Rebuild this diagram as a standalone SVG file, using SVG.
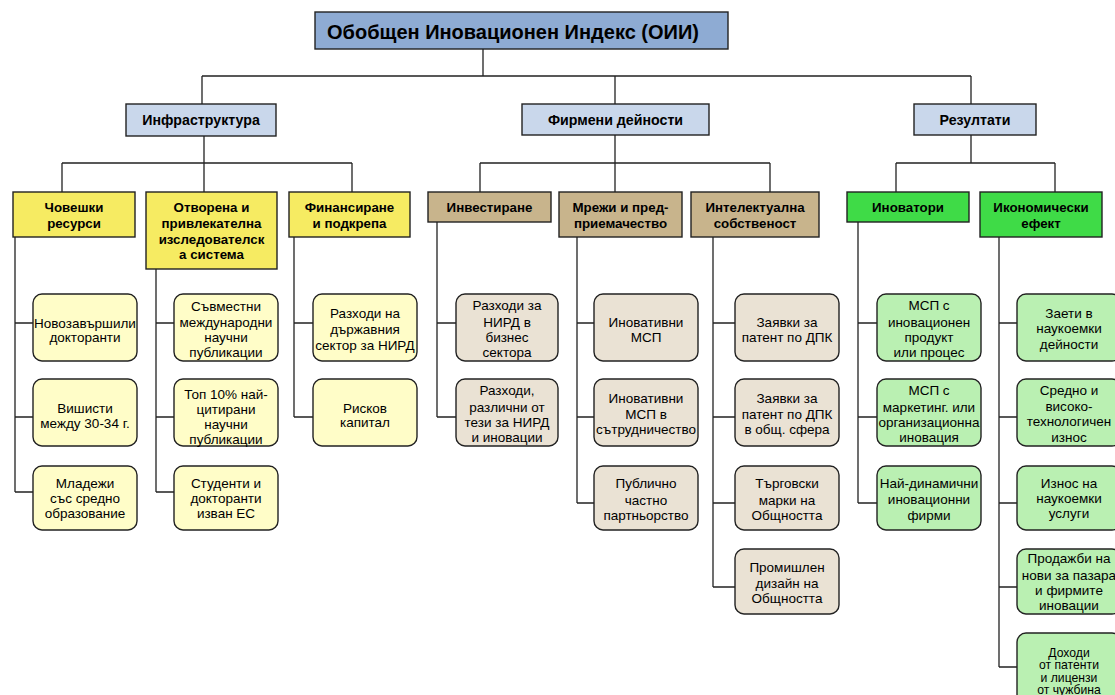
<svg xmlns="http://www.w3.org/2000/svg" width="1115" height="695" viewBox="0 0 1115 695">
<style>
text{font-family:"Liberation Sans",Arial,sans-serif;fill:#000;text-anchor:middle}
.t0{font-size:20px;font-weight:bold}
.t1{font-size:14.2px;font-weight:bold}
.t2{font-size:13.3px;font-weight:bold}
.t3{font-size:13.5px}
.t4{font-size:12.2px}
.box{stroke:#222;stroke-width:1.4}
.top{fill:#8EABD3}
.l1{fill:#C9D7EB}
.yl{fill:#F6EB62}
.tn{fill:#C8B48C}
.gn{fill:#3FDB47}
.yl3{fill:#FFFDC8}
.tn3{fill:#EAE2D4}
.gn3{fill:#BAF0B2}
.c{fill:none;stroke:#222;stroke-width:1.3}
</style>
<g id="connectors" class="c">
<path d="M483 49V76M202 76H971M202 76V104M615 76V104M971 76V104"/>
<path d="M204 136V163M62 163H352M62 163V192M204 163V192M352 163V192"/>
<path d="M615 135V163M480 163H770M480 163V192M615 163V192M770 163V192"/>
<path d="M971 135V163M896 163H1055M896 163V192M1055 163V192"/>
<path d="M15 237V492M15 323H33M15 417H33M15 492H33"/>
<path d="M156 269V492M156 323H174M156 417H174M156 492H174"/>
<path d="M294 237V417M294 323H313M294 417H313"/>
<path d="M437 222V417M437 323H456M437 417H456"/>
<path d="M577 237V503M577 323H594M577 417H594M577 503H594"/>
<path d="M713 237V587M713 323H735M713 417H735M713 503H735M713 587H735"/>
<path d="M858 222V503M858 323H877M858 417H877M858 503H877"/>
<path d="M999 237V667M999 323H1017M999 417H1017M999 503H1017M999 587H1017M999 667H1017"/>
</g>
<g id="n-top"><rect class="box top" x="315" y="12" width="413" height="37"/><text class="t0" x="513" y="38.5">Обобщен Иновационен Индекс (ОИИ)</text></g>
<g id="n-infra"><rect class="box l1" x="126" y="104" width="150" height="32"/><text class="t1" x="201" y="125">Инфраструктура</text></g>
<g id="n-firm"><rect class="box l1" x="522" y="104" width="187" height="31"/><text class="t1" x="615.5" y="125">Фирмени дейности</text></g>
<g id="n-res"><rect class="box l1" x="914" y="104" width="122" height="31"/><text class="t1" x="975" y="125">Резултати</text></g>

<g id="n-hr"><rect class="box yl" x="13" y="192" width="122" height="45"/><text class="t2" x="74" y="211.5">Човешки</text><text class="t2" x="74" y="227.5">ресурси</text></g>
<g id="n-open"><rect class="box yl" x="146" y="192" width="131" height="77"/><text class="t2" x="211.5" y="211.5">Отворена и</text><text class="t2" x="211.5" y="227.5">привлекателна</text><text class="t2" x="211.5" y="243.5">изследователск</text><text class="t2" x="211.5" y="259">а система</text></g>
<g id="n-fin"><rect class="box yl" x="289" y="192" width="121" height="45"/><text class="t2" x="349.5" y="211.5">Финансиране</text><text class="t2" x="349.5" y="227.5">и подкрепа</text></g>
<g id="n-inv"><rect class="box tn" x="428" y="192" width="123" height="30"/><text class="t2" x="489.5" y="211.5">Инвестиране</text></g>
<g id="n-net"><rect class="box tn" x="559" y="192" width="123" height="45"/><text class="t2" x="620.5" y="211.5">Мрежи и пред-</text><text class="t2" x="620.5" y="227.5">приемачество</text></g>
<g id="n-ip"><rect class="box tn" x="691" y="192" width="128" height="45"/><text class="t2" x="755" y="211.5">Интелектуална</text><text class="t2" x="755" y="227.5">собственост</text></g>
<g id="n-innov"><rect class="box gn" x="847" y="192" width="122" height="30"/><text class="t2" x="908" y="211.5">Иноватори</text></g>
<g id="n-econ"><rect class="box gn" x="980" y="192" width="122" height="45"/><text class="t2" x="1041" y="211.5">Икономически</text><text class="t2" x="1041" y="227.5">ефект</text></g>

<g id="n-a1"><rect class="box yl3" x="33" y="294" width="104" height="67" rx="9"/><text class="t3" x="85" y="327.5">Новозавършили</text><text class="t3" x="85" y="341.5">докторанти</text></g>
<g id="n-a2"><rect class="box yl3" x="33" y="379" width="104" height="67" rx="9"/><text class="t3" x="85" y="412.5">Вишисти</text><text class="t3" x="85" y="427.5">между 30-34 г.</text></g>
<g id="n-a3"><rect class="box yl3" x="33" y="466" width="104" height="64" rx="9"/><text class="t3" x="85" y="487.5">Младежи</text><text class="t3" x="85" y="502.5">със средно</text><text class="t3" x="85" y="517.5">образование</text></g>

<g id="n-b1"><rect class="box yl3" x="174" y="294" width="104" height="67" rx="9"/><text class="t3" x="226" y="310.5">Съвместни</text><text class="t3" x="226" y="326.5">международни</text><text class="t3" x="226" y="341.5">научни</text><text class="t3" x="226" y="356.5">публикации</text></g>
<g id="n-b2"><rect class="box yl3" x="174" y="379" width="104" height="67" rx="9"/><text class="t3" x="226" y="398.5">Топ 10% най-</text><text class="t3" x="226" y="413.5">цитирани</text><text class="t3" x="226" y="428.5">научни</text><text class="t3" x="226" y="443.5">публикации</text></g>
<g id="n-b3"><rect class="box yl3" x="174" y="466" width="104" height="64" rx="9"/><text class="t3" x="226" y="487.5">Студенти и</text><text class="t3" x="226" y="502.5">докторанти</text><text class="t3" x="226" y="517.5">изван ЕС</text></g>

<g id="n-c1"><rect class="box yl3" x="313" y="294" width="104" height="67" rx="9"/><text class="t3" x="365" y="317.5">Разходи на</text><text class="t3" x="365" y="334">държавния</text><text class="t3" x="365" y="349.5">сектор за НИРД</text></g>
<g id="n-c2"><rect class="box yl3" x="313" y="379" width="104" height="67" rx="9"/><text class="t3" x="365" y="412.5">Рисков</text><text class="t3" x="365" y="426.5">капитал</text></g>

<g id="n-d1"><rect class="box tn3" x="456" y="294" width="102" height="67" rx="9"/><text class="t3" x="507" y="309.5">Разходи за</text><text class="t3" x="507" y="326.5">НИРД в</text><text class="t3" x="507" y="341.5">бизнес</text><text class="t3" x="507" y="357">сектора</text></g>
<g id="n-d2"><rect class="box tn3" x="456" y="379" width="102" height="67" rx="9"/><text class="t3" x="507" y="394.5">Разходи,</text><text class="t3" x="507" y="411.5">различни от</text><text class="t3" x="507" y="426.5">тези за НИРД</text><text class="t3" x="507" y="441.5">и иновации</text></g>

<g id="n-e1"><rect class="box tn3" x="594" y="294" width="104" height="67" rx="9"/><text class="t3" x="646" y="326.5">Иновативни</text><text class="t3" x="646" y="341.5">МСП</text></g>
<g id="n-e2"><rect class="box tn3" x="594" y="379" width="104" height="67" rx="9"/><text class="t3" x="646" y="402.5">Иновативни</text><text class="t3" x="646" y="418.5">МСП в</text><text class="t3" x="646" y="433.5">сътрудничество</text></g>
<g id="n-e3"><rect class="box tn3" x="594" y="466" width="104" height="64" rx="9"/><text class="t3" x="646" y="487.5">Публично</text><text class="t3" x="646" y="504.5">частно</text><text class="t3" x="646" y="519.5">партньорство</text></g>

<g id="n-f1"><rect class="box tn3" x="735" y="294" width="104" height="67" rx="9"/><text class="t3" x="787" y="326.5">Заявки за</text><text class="t3" x="787" y="341.5">патент по ДПК</text></g>
<g id="n-f2"><rect class="box tn3" x="735" y="379" width="104" height="67" rx="9"/><text class="t3" x="787" y="402.5">Заявки за</text><text class="t3" x="787" y="418.5">патент по ДПК</text><text class="t3" x="787" y="433.5">в общ. сфера</text></g>
<g id="n-f3"><rect class="box tn3" x="735" y="466" width="104" height="64" rx="9"/><text class="t3" x="787" y="487.5">Търговски</text><text class="t3" x="787" y="504.5">марки на</text><text class="t3" x="787" y="519.5">Общността</text></g>
<g id="n-f4"><rect class="box tn3" x="735" y="549" width="104" height="65" rx="9"/><text class="t3" x="787" y="571.5">Промишлен</text><text class="t3" x="787" y="587.5">дизайн на</text><text class="t3" x="787" y="602.5">Общността</text></g>

<g id="n-g1"><rect class="box gn3" x="877" y="294" width="104" height="67" rx="9"/><text class="t3" x="929" y="309.5">МСП с</text><text class="t3" x="929" y="326.5">иновационен</text><text class="t3" x="929" y="341.5">продукт</text><text class="t3" x="929" y="357">или процес</text></g>
<g id="n-g2"><rect class="box gn3" x="877" y="379" width="104" height="67" rx="9"/><text class="t3" x="929" y="394.5">МСП с</text><text class="t3" x="929" y="411.5">маркетинг. или</text><text class="t3" x="929" y="426.5">организационна</text><text class="t3" x="929" y="441.5">иновация</text></g>
<g id="n-g3"><rect class="box gn3" x="877" y="466" width="104" height="64" rx="9"/><text class="t3" x="929" y="487.5">Най-динамични</text><text class="t3" x="929" y="503.5">иновационни</text><text class="t3" x="929" y="519.5">фирми</text></g>

<g id="n-h1"><rect class="box gn3" x="1017" y="294" width="104" height="67" rx="9"/><text class="t3" x="1069" y="317.5">Заети в</text><text class="t3" x="1069" y="332.5">наукоемки</text><text class="t3" x="1069" y="348.5">дейности</text></g>
<g id="n-h2"><rect class="box gn3" x="1017" y="379" width="104" height="67" rx="9"/><text class="t3" x="1069" y="394.5">Средно и</text><text class="t3" x="1069" y="410.5">високо-</text><text class="t3" x="1069" y="425.5">технологичен</text><text class="t3" x="1069" y="441.5">износ</text></g>
<g id="n-h3"><rect class="box gn3" x="1017" y="466" width="104" height="64" rx="9"/><text class="t3" x="1069" y="487.5">Износ на</text><text class="t3" x="1069" y="502.5">наукоемки</text><text class="t3" x="1069" y="517.5">услуги</text></g>
<g id="n-h4"><rect class="box gn3" x="1017" y="549" width="104" height="65" rx="9"/><text class="t3" x="1069" y="562.5">Продажби на</text><text class="t3" x="1069" y="580">нови за пазара</text><text class="t3" x="1069" y="594.5">и фирмите</text><text class="t3" x="1069" y="609.5">иновации</text></g>
<g id="n-h5"><rect class="box gn3" x="1017" y="633" width="104" height="70" rx="9"/><text class="t4" x="1069" y="657">Доходи</text><text class="t4" x="1069" y="669.3">от патенти</text><text class="t4" x="1069" y="681.6">и лицензи</text><text class="t4" x="1069" y="694">от чужбина</text></g>
</svg>
